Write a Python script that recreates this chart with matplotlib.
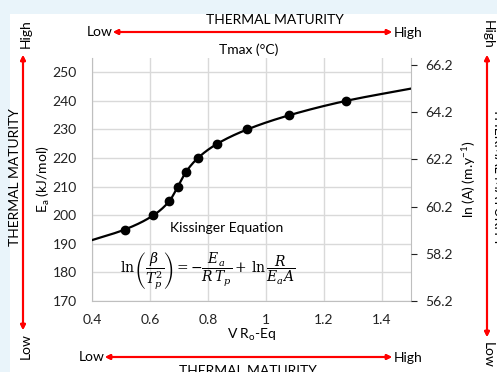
import numpy as np
import matplotlib.pyplot as plt
from matplotlib.patches import Rectangle

plt.rcParams['font.family'] = ['Lato', 'DejaVu Sans']
plt.rcParams['mathtext.fontset'] = 'dejavuserif'

# данные
ro_eq = [0.513, 0.612, 0.667, 0.696, 0.723, 0.765, 0.832, 0.935, 1.081, 1.276]
ea = [195, 200, 205, 210, 215, 220, 225, 230, 235, 240]
# концы сглаженной кривой (за пределами точек)
curve_ends_x = [0.4, 1.5]
curve_ends_y = [191.3, 244.3]

x_ticks = [0.4, 0.6, 0.8, 1.0, 1.2, 1.4]
x_tick_labels = ['0.4', '0.6', '0.8', '1', '1.2', '1.4']
y_ticks = [170, 180, 190, 200, 210, 220, 230, 240, 250]
ln_a_ticks = [56.2, 58.2, 60.2, 62.2, 64.2, 66.2]


def smooth(xs, ys, n=300):
    # монотонный кубический сплайн (Fritsch-Carlson)
    xs = np.asarray(xs, float)
    ys = np.asarray(ys, float)
    h = np.diff(xs)
    d = np.diff(ys) / h
    m = np.zeros_like(xs)
    m[0], m[-1] = d[0], d[-1]
    for i in range(1, len(xs) - 1):
        if d[i - 1] * d[i] > 0:
            w1 = 2 * h[i] + h[i - 1]
            w2 = h[i] + 2 * h[i - 1]
            m[i] = (w1 + w2) / (w1 / d[i - 1] + w2 / d[i])
    xx = np.linspace(xs[0], xs[-1], n)
    k = np.clip(np.searchsorted(xs, xx) - 1, 0, len(xs) - 2)
    t = (xx - xs[k]) / h[k]
    h00 = 2 * t**3 - 3 * t**2 + 1
    h10 = t**3 - 2 * t**2 + t
    h01 = -2 * t**3 + 3 * t**2
    h11 = t**3 - t**2
    yy = h00 * ys[k] + h10 * h[k] * m[k] + h01 * ys[k + 1] + h11 * h[k] * m[k + 1]
    return xx, yy


fig = plt.figure(figsize=(4.97, 3.72), dpi=100)
fig.patch.set_facecolor('#e9f4fa')
fig.patches.append(Rectangle((10 / 497, 0), 1, 1 - 14 / 372, transform=fig.transFigure,
                             facecolor='white', edgecolor='none', zorder=-1))

ax = fig.add_axes([92 / 497, 1 - 301 / 372, 319 / 497, 243 / 372])
ax.set_facecolor('none')

cx, cy = smooth([curve_ends_x[0]] + ro_eq + [curve_ends_x[1]],
                [curve_ends_y[0]] + ea + [curve_ends_y[1]])
ax.plot(cx, cy, color='black', lw=1.6, zorder=3)
ax.plot(ro_eq, ea, 'o', color='black', markersize=6, zorder=4)

ax.set_xlim(0.4, 1.5)
ax.set_ylim(170, 255)
ax.set_xticks(x_ticks)
ax.set_xticklabels(x_tick_labels)
ax.set_yticks(y_ticks)
ax.grid(color='#d9d9d9', lw=1)
ax.tick_params(length=0, labelsize=10, colors='#222222')
ax.tick_params(axis='x', pad=9)
ax.tick_params(axis='y', pad=11)
for s in ['left', 'bottom', 'right']:
    ax.spines[s].set_color('#bfbfbf')
ax.spines['top'].set_visible(False)
ax.set_xlabel('V R$_\\mathregular{o}$-Eq', fontsize=10, labelpad=1)
ax.set_ylabel('E$_\\mathregular{a}$ (kJ/mol)', fontsize=10, labelpad=0)

ax2 = ax.twinx()
ax2.set_ylim(56.2, 66.5)
ax2.set_yticks(ln_a_ticks)
ax2.set_yticklabels([f'{v:.1f}' for v in ln_a_ticks])
ax2.tick_params(length=4, color='#bfbfbf', labelsize=10, colors='#222222', pad=6)
ax2.tick_params(axis='y', colors='#222222')
for s in ['left', 'bottom', 'top', 'right']:
    ax2.spines[s].set_visible(False)
ax2.set_ylabel('ln (A) (m.y$^{\\mathregular{-1}}$)', fontsize=10, labelpad=5)

ax.text(0.67, 195.5, 'Kissinger Equation', fontsize=10, va='center')
ax.text(0.495, 180.5,
        r'$\ln\left(\dfrac{\beta}{T_p^2}\right) = -\dfrac{E_a}{R\,T_p} + \,\ln\dfrac{R}{E_aA}$',
        fontsize=10, va='center')

fig.text(249 / 497, 1 - 50 / 372, 'Tmax (°C)', ha='center', va='center', fontsize=10)

# стрелки термической зрелости
red = '#ff0000'
arr = dict(arrowstyle='<|-|>', color=red, lw=1.5, mutation_scale=7, shrinkA=0, shrinkB=0)


def farrow(x0, y0, x1, y1):
    fig.add_artist(plt.annotate('', xy=(x1 / 497, 1 - y1 / 372), xytext=(x0 / 497, 1 - y0 / 372),
                                xycoords='figure fraction', arrowprops=arr))


def ftext(x, y, s, **kw):
    fig.text(x / 497, 1 - y / 372, s, ha='center', va='center', fontsize=10, **kw)


# верх
farrow(113, 32, 392, 32)
ftext(100, 32, 'Low')
ftext(408, 33, 'High')
ftext(275, 20, 'THERMAL MATURITY')
# низ
farrow(105, 357, 392, 357)
ftext(92, 357, 'Low')
ftext(408, 358, 'High')
ftext(248, 371, 'THERMAL MATURITY')
# слева
farrow(23, 330, 23, 55)
ftext(26, 34, 'High', rotation=90)
ftext(26, 346, 'Low', rotation=90)
ftext(15, 177, 'THERMAL MATURITY', rotation=90)
# справа
farrow(487, 55, 487, 337)
ftext(488, 34, 'High', rotation=-90)
ftext(488, 355, 'Low', rotation=-90)
ftext(498, 177, 'THERMAL MATURITY', rotation=-90)

fig.savefig('out.png', dpi=100)
